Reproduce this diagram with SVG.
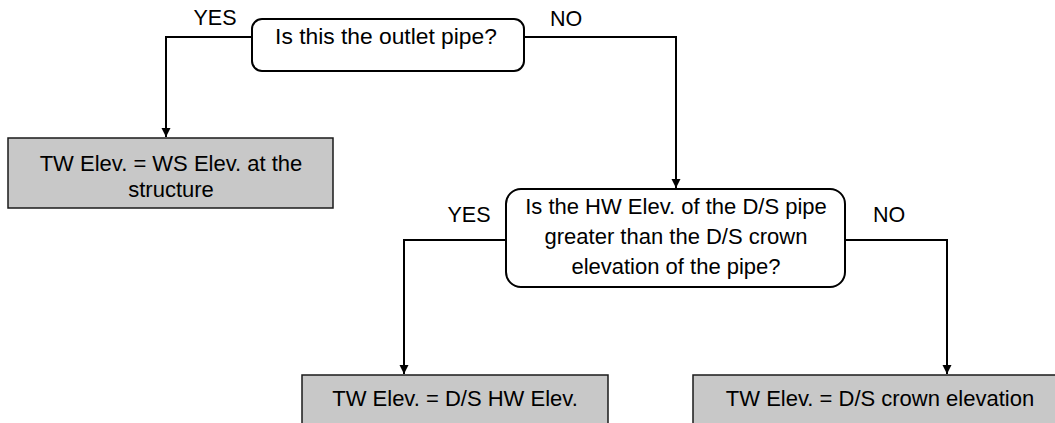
<svg xmlns="http://www.w3.org/2000/svg" width="1055" height="423" viewBox="0 0 1055 423">
  <style>
    text { font-family: "Liberation Sans", Arial, sans-serif; font-size: 22px; fill: #000; }
    .c { text-anchor: middle; }
    .lbl { font-size: 21.5px; }
    .big { font-size: 22.8px; }
    .dec { fill: #fff; stroke: #000; stroke-width: 2; }
    .res { fill: #c8c8c8; stroke: #1a1a1a; stroke-width: 1.5; }
    .conn { fill: none; stroke: #000; stroke-width: 2; }
  </style>
  <defs>
    <marker id="arr" markerWidth="10" markerHeight="10" refX="9" refY="5" orient="auto" markerUnits="userSpaceOnUse">
      <path d="M0,0.5 L9,5 L0,9.5 Z" fill="#000"/>
    </marker>
  </defs>
  <rect width="1055" height="423" fill="#fff"/>
  <g id="connectors">
    <path class="conn" d="M252,37 H166 V137" marker-end="url(#arr)"/>
    <path class="conn" d="M524,37 H676 V188" marker-end="url(#arr)"/>
    <path class="conn" d="M506,240 H404 V374" marker-end="url(#arr)"/>
    <path class="conn" d="M845,240 H947 V374" marker-end="url(#arr)"/>
  </g>
  <g id="labels">
    <text x="215" y="25" class="c lbl">YES</text>
    <text x="566" y="26" class="c lbl">NO</text>
    <text x="469" y="222" class="c lbl">YES</text>
    <text x="889" y="222" class="c lbl">NO</text>
  </g>
  <g id="q1">
    <rect class="dec" x="252" y="19" width="272" height="52" rx="10"/>
    <text x="386" y="44" class="c big">Is this the outlet pipe?</text>
  </g>
  <g id="r1">
    <rect class="res" x="8" y="138" width="325" height="70"/>
    <text x="171" y="171" class="c">TW Elev. = WS Elev. at the</text>
    <text x="171" y="197" class="c">structure</text>
  </g>
  <g id="q2">
    <rect class="dec" x="506" y="189" width="339" height="98" rx="15"/>
    <text x="676" y="214" class="c">Is the HW Elev. of the D/S pipe</text>
    <text x="676" y="244" class="c">greater than the D/S crown</text>
    <text x="676" y="274" class="c">elevation of the pipe?</text>
  </g>
  <g id="r2">
    <rect class="res" x="302" y="375" width="306" height="70"/>
    <text x="455" y="406" class="c">TW Elev. = D/S HW Elev.</text>
  </g>
  <g id="r3">
    <rect class="res" x="693" y="375" width="375" height="70"/>
    <text x="880" y="406" class="c">TW Elev. = D/S crown elevation</text>
  </g>
</svg>
